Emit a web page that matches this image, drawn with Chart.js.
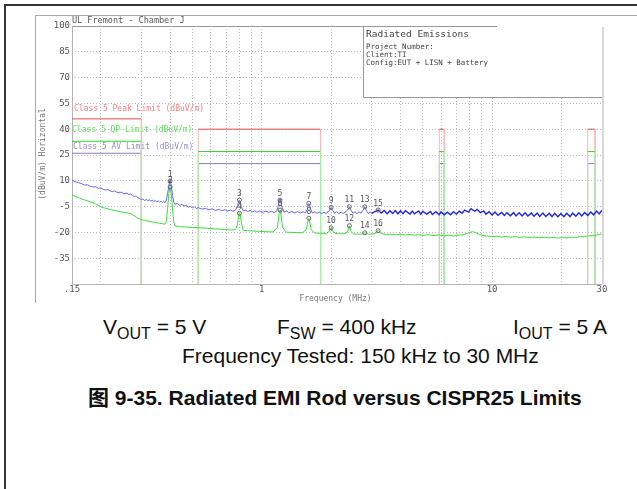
<!DOCTYPE html>
<html lang="zh">
<head>
  <meta charset="UTF-8" />
  <title>Radiated EMI Rod versus CISPR25 Limits</title>
  <script src="https://cdn.jsdelivr.net/npm/chart.js@4.4.0/dist/chart.umd.min.js"></script>
  <style>
    * { box-sizing: border-box; }
    body {
      margin: 0;
      width: 637px;
      height: 489px;
      overflow: hidden;
      background: #fff;
      position: relative;
      font-family: "Liberation Sans", Arial, "Noto Sans CJK SC", sans-serif;
      color: #111;
    }
    /* marcos del documento */
    .frame-out {
      position: absolute; left: 4px; top: 4px; width: 700px; height: 600px;
      border-left: 2px solid #333; border-top: 2px solid #333;
    }
    .frame-in {
      position: absolute; left: 35px; top: 15px; width: 700px; height: 288px;
      border-left: 1px solid #aaa; border-top: 1px solid #aaa;
    }
    #emi { position: absolute; left: 0; top: 0; }
    .note {
      position: absolute;
      font-size: 21px;
      line-height: 21px;
      white-space: nowrap;
    }
    .note sub { font-size: 16px; vertical-align: -5px; line-height: 0; }
    .caption { font-weight: bold; }
  </style>
</head>
<body>
  <div class="frame-out"></div>
  <div class="frame-in"></div>
  <canvas id="emi" width="637" height="310"></canvas>

  <div class="note" style="left:103px; top:316px">V<sub>OUT</sub> = 5 V</div>
  <div class="note" style="left:277px; top:316px">F<sub>SW</sub> = 400 kHz</div>
  <div class="note" style="left:513px; top:316px">I<sub>OUT</sub> = 5 A</div>
  <div class="note" style="left:182px; top:345px">Frequency Tested: 150 kHz to 30 MHz</div>
  <div class="note caption" style="left:88px; top:387px">图 9-35. Radiated EMI Rod versus CISPR25 Limits</div>

  <script>
    /* ---- bandas CISPR25 clase 5 (MHz / dBuV/m) ---- */
    var bandStart = [0.15, 0.53, 5.9, 26];
    var bandEnd   = [0.3, 1.8, 6.2, 28];
    var peakLimit = [46, 40, 40, 40];
    var qpLimit   = [33, 27, 27, 27];
    var avLimit   = [26, 20, 20, 20];

    /* ---- ejes ---- */
    var yTicks = [-50, -35, -20, -5, 10, 25, 40, 55, 70, 85, 100];
    var xTicks = [0.15, 0.2, 0.3, 0.4, 0.5, 0.6, 0.7, 0.8, 0.9, 1, 2, 3, 4, 5, 6, 7, 8, 9, 10, 20, 30];
    var xTickLabels = { 0.15: ".15", 1: "1", 10: "10", 30: "30" };

    /* ---- traza pico (azul) [MHz, dBuV/m] ---- */
    var peakTrace = [
      [0.150,10.3],[0.155,9.5],[0.160,8.9],[0.165,8.4],[0.170,7.5],[0.175,7.7],[0.180,6.8],[0.185,6.4],
      [0.190,6.6],[0.195,5.7],[0.200,5.9],[0.205,5.0],[0.210,4.7],[0.215,4.9],[0.220,4.0],[0.225,3.8],
      [0.230,4.1],[0.235,3.3],[0.240,3.0],[0.245,3.4],[0.250,2.7],[0.255,2.5],[0.260,2.9],[0.265,2.0],
      [0.270,2.3],[0.275,1.3],[0.280,0.9],[0.285,1.1],[0.290,0.2],[0.295,-0.4],[0.300,-0.9],[0.305,-0.5],
      [0.310,-1.5],[0.315,-0.8],[0.320,-1.7],[0.325,-0.9],[0.330,-1.9],[0.335,-1.2],[0.340,-2.1],[0.345,-1.4],
      [0.350,-2.3],[0.355,-1.6],[0.360,-2.4],[0.365,-1.8],[0.370,-2.6],[0.375,-2.0],[0.380,-2.7],[0.385,-1.2],
      [0.390,2.5],[0.395,7.0],[0.400,10.5],[0.405,6.5],[0.410,1.5],[0.415,-2.5],[0.420,-3.6],[0.43,-3.1],
      [0.44,-4.3],[0.45,-3.7],[0.46,-4.7],[0.47,-4.2],[0.48,-5.3],[0.49,-4.8],[0.50,-5.7],[0.51,-5.1],
      [0.52,-6.1],[0.53,-5.6],[0.55,-6.5],[0.57,-6.0],[0.59,-6.9],[0.61,-6.3],[0.63,-7.2],[0.65,-6.6],
      [0.67,-7.4],[0.69,-6.8],[0.71,-7.6],[0.73,-7.0],[0.75,-7.7],[0.77,-6.9],[0.785,-4.5],[0.795,-1.6],
      [0.805,-1.8],[0.815,-5.0],[0.83,-7.4],[0.85,-7.0],[0.87,-7.9],[0.89,-7.2],[0.91,-8.0],[0.93,-7.4],
      [0.95,-8.2],[0.98,-7.5],[1.01,-8.3],[1.04,-7.6],[1.07,-8.4],[1.10,-7.7],[1.13,-8.5],[1.16,-7.6],
      [1.18,-4.5],[1.195,-1.4],[1.205,-1.2],[1.22,-4.8],[1.25,-8.2],[1.28,-7.6],[1.31,-8.6],[1.35,-7.8],
      [1.39,-8.7],[1.43,-7.9],[1.47,-8.8],[1.51,-8.0],[1.55,-8.6],[1.58,-6.0],[1.595,-3.3],[1.61,-3.6],
      [1.63,-6.5],[1.66,-8.8],[1.70,-8.0],[1.74,-9.0],[1.78,-8.2],[1.82,-9.1],[1.86,-8.3],[1.90,-9.0],
      [1.94,-8.1],[1.97,-7.0],[2.00,-5.5],[2.03,-7.2],[2.07,-8.9],[2.11,-8.0],[2.16,-9.1],[2.21,-8.2],
      [2.26,-9.0],[2.31,-8.0],[2.36,-7.0],[2.40,-5.1],[2.44,-7.1],[2.49,-8.9],[2.54,-8.0],[2.59,-9.1],
      [2.64,-8.1],[2.70,-8.8],[2.75,-7.2],[2.80,-5.1],[2.85,-7.4],[2.90,-9.0],[2.96,-8.0],
      [3.0,-9.0],[3.1,-7.9],[3.2,-7.0],[3.3,-8.8],[3.4,-7.3],[3.5,-9.1],[3.6,-7.4],[3.7,-9.0],
      [3.8,-7.3],[3.9,-9.2],[4.0,-7.5],[4.1,-9.1],[4.2,-7.4],[4.4,-9.3],[4.5,-7.6],[4.6,-9.2],
      [4.8,-7.5],[4.9,-9.4],[5.0,-7.7],[5.2,-9.4],[5.4,-7.8],[5.5,-9.6],[5.7,-8.0],[5.9,-9.7],
      [6.0,-8.1],[6.2,-9.8],[6.4,-8.2],[6.6,-9.7],[6.8,-8.0],[7.0,-9.4],[7.2,-7.7],[7.4,-8.9],
      [7.6,-7.0],[7.9,-8.2],[8.1,-6.2],[8.4,-7.7],[8.6,-6.6],[8.9,-8.5],[9.2,-7.5],[9.4,-9.4],
      [9.7,-8.0],[10,-9.9],[10.3,-8.2],[10.6,-10.1],[11,-8.4],[11.3,-10.2],[11.6,-8.5],[12,-10.3],
      [12.4,-8.5],[12.7,-10.4],[13.1,-8.6],[13.5,-10.5],[13.9,-8.6],[14.3,-10.5],[14.8,-8.7],[15.2,-10.6],
      [15.7,-8.7],[16.1,-10.7],[16.6,-8.8],[17.1,-10.8],[17.7,-8.9],[18.2,-10.8],[18.7,-8.9],[19.3,-10.9],
      [19.9,-9.0],[20.5,-10.9],[21.1,-8.9],[21.8,-10.8],[22.4,-8.8],[23.1,-10.6],[23.8,-8.6],[24.5,-10.4],
      [25.2,-8.4],[26,-10.1],[26.8,-8.1],[27.6,-9.8],[28.4,-7.6],[29.2,-9.3],[30,-7.0]
    ];

    /* ---- traza promedio (verde) [MHz, dBuV/m] ---- */
    var avgTrace = [
      [0.150,1.7],[0.16,0.2],[0.17,-1.1],[0.18,-2.2],[0.19,-3.4],[0.20,-5.2],[0.21,-6.0],[0.22,-6.7],
      [0.23,-7.3],[0.24,-7.9],[0.25,-8.3],[0.26,-8.7],[0.27,-9.0],[0.28,-10.5],[0.29,-11.8],[0.30,-12.6],
      [0.31,-13.0],[0.32,-13.4],[0.33,-13.8],[0.34,-14.1],[0.35,-14.4],[0.36,-14.7],[0.37,-14.9],[0.38,-15.2],
      [0.385,-13.5],[0.39,-6.0],[0.395,2.5],[0.40,6.5],[0.405,2.0],[0.41,-7.0],[0.415,-14.0],[0.42,-16.2],
      [0.44,-16.7],[0.47,-16.9],[0.50,-17.1],[0.54,-17.3],[0.58,-17.6],[0.62,-17.9],[0.66,-18.1],[0.70,-18.3],
      [0.74,-18.6],[0.77,-18.4],[0.785,-15.0],[0.795,-9.5],[0.805,-9.2],[0.815,-14.0],[0.83,-18.8],[0.87,-19.0],
      [0.92,-19.2],[0.98,-19.4],[1.05,-19.6],[1.12,-19.7],[1.17,-17.0],[1.19,-9.0],[1.20,-7.0],[1.21,-9.0],
      [1.23,-17.0],[1.28,-19.9],[1.35,-20.0],[1.42,-20.1],[1.50,-20.2],[1.56,-18.5],[1.59,-13.0],[1.60,-12.0],
      [1.61,-13.0],[1.64,-18.5],[1.70,-20.4],[1.80,-20.5],[1.90,-20.6],[1.96,-19.5],[2.00,-17.3],[2.04,-19.5],
      [2.10,-20.7],[2.20,-20.8],[2.30,-20.8],[2.36,-19.5],[2.40,-16.1],[2.44,-19.5],[2.50,-20.9],[2.60,-21.0],
      [2.70,-21.0],[2.76,-20.6],[2.80,-20.2],[2.84,-20.6],[2.90,-21.0],[3.00,-21.1],[3.10,-20.6],[3.20,-19.0],
      [3.30,-20.6],[3.45,-21.2],[3.6,-21.0],[3.8,-21.4],[4.0,-21.1],[4.2,-21.5],[4.4,-21.2],[4.6,-21.6],
      [4.8,-21.3],[5.0,-21.7],[5.3,-21.4],[5.6,-21.8],[5.9,-21.5],[6.2,-22.0],[6.5,-21.7],[6.8,-22.1],
      [7.1,-21.6],[7.4,-21.5],[7.7,-20.8],[8.0,-20.0],[8.2,-19.6],[8.4,-19.9],[8.7,-20.8],[9.0,-21.6],
      [9.3,-22.0],[9.7,-22.2],[10,-22.5],[10.5,-22.2],[11,-22.7],[11.5,-22.4],[12,-22.8],[12.6,-22.5],
      [13.2,-22.9],[13.8,-22.6],[14.5,-23.0],[15.2,-22.7],[16,-23.1],[16.8,-22.8],[17.6,-23.2],[18.4,-22.9],
      [19.3,-23.3],[20.2,-23.0],[21.1,-23.2],[22.1,-22.8],[23.1,-22.9],[24.2,-22.4],[25.3,-22.5],[26.5,-21.9],
      [27.7,-21.9],[28.9,-21.3],[30,-20.9]
    ];

    /* ---- marcadores ---- */
    var markerNum   = [1, 2, 3, 4, 5, 6, 7, 8, 9, 10, 11, 12, 13, 14, 15, 16];
    var markerFreq  = [0.4, 0.4, 0.8, 0.8, 1.2, 1.2, 1.6, 1.6, 2.0, 2.0, 2.4, 2.4, 2.8, 2.8, 3.2, 3.2];
    var markerLevel = [9.9, 6.4, -1.2, -8.9, -1.2, -7.0, -3.1, -11.8, -5.4, -17.3, -5.1, -16.1, -5.1, -20.2, -7.0, -19.0];

    var Y_MIN = -50, Y_MAX = 100, X_MIN = 0.15, X_MAX = 30;
    var MONO = "'DejaVu Sans Mono', monospace";

    /* escalones de un límite: suben desde el piso y vuelven a bajar */
    function stepLimit(levels) {
      var pts = [];
      bandStart.forEach(function (f0, i) {
        pts.push({ x: f0, y: Y_MIN }, { x: f0, y: levels[i] },
                 { x: bandEnd[i], y: levels[i] }, { x: bandEnd[i], y: Y_MIN });
      });
      return pts;
    }
    function pairs(arr) { return arr.map(function (p) { return { x: p[0], y: p[1] }; }); }

    /* color por tramo: horizontal fuerte, vertical claro, piso invisible */
    function segColor(strong, light) {
      return function (ctx) {
        var a = ctx.p0.parsed, b = ctx.p1.parsed;
        if (a.y === Y_MIN && b.y === Y_MIN) return "rgba(0,0,0,0)";
        if (a.x === b.x) return a.x <= X_MIN ? "rgba(0,0,0,0)" : light;
        return strong;
      };
    }

    function limitSet(levels, strong, light, order) {
      return {
        data: stepLimit(levels), borderColor: strong, borderWidth: 1,
        pointRadius: 0, tension: 0, order: order,
        segment: { borderColor: segColor(strong, light) }
      };
    }

    /* ---- decoraciones del trazador ---- */
    var plotterDecor = {
      id: "plotterDecor",
      beforeDatasetsDraw: function (chart) {
        var c = chart.ctx, a = chart.chartArea;
        c.save();
        // caja de información
        c.fillStyle = "#fff";
        c.fillRect(363, a.top, a.right - 363, 97 - a.top);
        c.strokeStyle = "#999"; c.lineWidth = 1;
        c.beginPath();
        c.moveTo(a.left, a.top + 0.5); c.lineTo(497, a.top + 0.5);
        c.moveTo(363.5, a.top); c.lineTo(363.5, 97.5); c.lineTo(a.right, 97.5);
        c.stroke();
        // bordes del área
        c.strokeStyle = "#b4b4b4";
        c.beginPath();
        c.moveTo(a.left + 0.5, a.top); c.lineTo(a.left + 0.5, a.bottom + 0.5); c.lineTo(a.right, a.bottom + 0.5);
        c.stroke();
        c.strokeStyle = "#d8d8d8"; c.lineWidth = 2;
        c.beginPath(); c.moveTo(a.right + 1, a.top + 1); c.lineTo(a.right + 1, a.bottom); c.stroke();

        c.textBaseline = "middle"; c.textAlign = "left";
        c.fillStyle = "#555";
        c.font = "8.5px " + MONO;
        c.fillText("UL Fremont - Chamber J", 72, 20.5);
        c.fillStyle = "#444";
        c.font = "9.5px " + MONO;
        c.fillText("Radiated Emissions", 366, 34.5);
        c.font = "7.5px " + MONO;
        c.fillText("Project Number:", 366, 47);
        c.fillText("Client:TI", 366, 55);
        c.fillText("Config:EUT + LISN + Battery", 366, 63);

        c.font = "8px " + MONO;
        c.fillStyle = "#ff7f7f"; c.fillText("Class 5 Peak Limit (dBuV/m)", 74, 108.5);
        c.fillStyle = "#5fe65f"; c.fillText("Class 5 QP Limit (dBuV/m)", 72, 129.5);
        c.fillStyle = "#9a8cc8"; c.fillText("Class 5 AV Limit (dBuV/m)", 73, 147);

        c.fillStyle = "#777";
        c.textAlign = "center";
        c.fillText("Frequency (MHz)", 335.5, 299);
        c.translate(43, 154);
        c.rotate(-Math.PI / 2);
        c.fillText("(dBuV/m) Horizontal", 0, 0);
        c.restore();
      },
      afterDatasetsDraw: function (chart) {
        var c = chart.ctx;
        var meta = chart.getDatasetMeta(0);
        c.save();
        c.font = "8px " + MONO;
        c.fillStyle = "#555";
        c.textAlign = "center";
        c.textBaseline = "bottom";
        meta.data.forEach(function (pt, i) {
          c.fillText(String(markerNum[i]), pt.x, pt.y - 2.5);
        });
        c.restore();
      }
    };

    var gridColor = function (ctx) {
      var v = ctx.tick && ctx.tick.value;
      return (v === X_MIN || v === X_MAX || v === Y_MIN || v === Y_MAX) ? "rgba(0,0,0,0)" : "#bdbdbd";
    };

    Chart.defaults.font.family = MONO;
    Chart.defaults.font.size = 9;
    Chart.defaults.color = "#555";

    new Chart(document.getElementById("emi").getContext("2d"), {
      type: "line",
      data: {
        datasets: [
          {
            data: markerFreq.map(function (f, i) { return { x: f, y: markerLevel[i] }; }),
            showLine: false, pointRadius: 2, pointBorderWidth: 1,
            pointBorderColor: "#666", pointBackgroundColor: "rgba(255,255,255,0)", order: 0
          },
          {
            data: pairs(peakTrace), borderColor: "rgb(60,60,245)", borderWidth: 1, pointRadius: 0, tension: 0, order: 1,
            segment: {
              borderWidth: function (ctx) { return ctx.p0.parsed.x >= 3 ? 1.4 : 1; },
              borderColor: function (ctx) { return ctx.p0.parsed.x >= 3 ? "rgb(35,35,235)" : "rgb(100,100,250)"; }
            }
          },
          { data: pairs(avgTrace), borderColor: "rgb(60,222,60)", borderWidth: 1, pointRadius: 0, tension: 0, order: 2 },
          limitSet(qpLimit, "#2fd22f", "#a6eea6", 3),
          limitSet(peakLimit, "#e84a4a", "#ffb6b6", 4),
          limitSet(avLimit, "#8a78b8", "#c9c0e0", 5)
        ]
      },
      options: {
        responsive: false,
        animation: false,
        devicePixelRatio: 1,
        layout: { padding: { left: 32, right: 35, top: 26, bottom: 10 } },
        plugins: { legend: { display: false }, tooltip: { enabled: false } },
        scales: {
          x: {
            type: "logarithmic",
            min: X_MIN, max: X_MAX,
            afterBuildTicks: function (s) { s.ticks = xTicks.map(function (v) { return { value: v }; }); },
            afterFit: function (s) { s.height = 16; },
            ticks: {
              autoSkip: false, maxRotation: 0, padding: 0,
              callback: function (v) { return xTickLabels[v] || ""; }
            },
            grid: { color: gridColor, drawTicks: false, lineWidth: 1, borderDash: [1, 2] },
            border: { display: false, dash: [1, 2] }
          },
          y: {
            type: "linear",
            min: Y_MIN, max: Y_MAX,
            afterBuildTicks: function (s) { s.ticks = yTicks.map(function (v) { return { value: v }; }); },
            afterFit: function (s) { s.width = 40; },
            ticks: {
              padding: 2,
              callback: function (v) { return v === Y_MIN ? "" : String(v); }
            },
            grid: { color: gridColor, drawTicks: false, lineWidth: 1, borderDash: [1, 2] },
            border: { display: false, dash: [1, 2] }
          }
        }
      },
      plugins: [plotterDecor]
    });
  </script>
</body>
</html>
